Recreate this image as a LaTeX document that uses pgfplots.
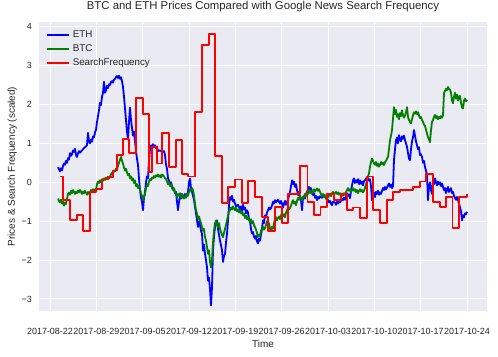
\documentclass[border=0pt]{standalone}
\usepackage{fontspec}
\setmainfont{Liberation Sans}
\usepackage{pgfplots}
\usepackage{pgfplotstable}
\pgfplotsset{compat=1.18}
\definecolor{sbbg}{HTML}{EAEAF2}
\definecolor{txt}{HTML}{262626}
\definecolor{mplblue}{rgb}{0,0,1}
\definecolor{mplgreen}{rgb}{0,0.5,0}
\definecolor{mplred}{rgb}{1,0,0}
% x unit: time steps of about 3.6 hours, 0 = 2017-08-22
\pgfplotstableread{
x y
8 0.39
9 0.33
10 0.28
11 0.36
12 0.30
13 0.42
14 0.48
15 0.45
16 0.55
17 0.50
18 0.62
19 0.58
20 0.75
21 0.68
22 0.72
23 0.82
24 0.78
25 0.86
26 0.70
27 0.65
28 0.74
29 0.80
30 0.76
32 0.82
34 0.88
36 0.92
37 0.96
38 1.27
39 1.05
40 1.00
41 1.10
42 1.04
43 1.18
44 1.15
45 1.28
46 1.35
47 1.55
48 1.70
49 1.85
50 2.05
51 1.98
52 2.20
53 2.30
54 2.58
55 2.30
56 2.36
57 2.48
58 2.42
59 2.52
60 2.50
61 2.58
62 2.60
63 2.56
64 2.64
65 2.66
66 2.70
67 2.73
68 2.68
69 2.74
70 2.66
71 2.70
72 2.60
73 2.45
74 2.20
75 1.90
76 1.60
77 1.30
78 1.10
79 1.55
80 1.92
81 1.60
82 1.40
83 1.20
84 1.30
85 1.05
86 0.80
87 0.60
88 0.45
89 0.10
90 -0.20
91 -0.40
92 -0.50
93 -0.72
94 -0.40
95 -0.25
96 0.00
97 0.15
98 0.10
99 0.55
100 0.85
101 0.95
102 0.85
103 0.98
104 0.90
105 0.95
106 0.88
107 0.92
108 0.80
110 0.82
112 0.78
114 0.80
115 0.70
116 0.45
117 0.35
118 0.10
119 0.05
120 -0.05
121 0.00
122 -0.10
123 -0.15
124 -0.20
125 -0.28
126 -0.25
127 -0.50
128 -0.72
129 -0.50
130 -0.35
131 -0.42
132 -0.30
133 -0.40
134 -0.36
135 -0.30
136 -0.38
137 -0.32
138 -0.25
139 0.00
140 0.10
141 -0.15
142 -0.25
143 -0.35
144 -0.45
145 -0.64
146 -0.80
147 -0.98
148 -1.15
149 -1.00
150 -1.10
151 -1.25
152 -1.32
153 -1.76
154 -1.60
155 -1.84
156 -2.00
157 -2.19
158 -2.53
159 -2.45
160 -2.75
161 -3.17
162 -2.70
163 -1.75
164 -1.40
165 -1.15
166 -1.05
167 -0.98
168 -1.20
169 -1.35
170 -1.50
171 -1.62
172 -1.75
173 -2.05
174 -1.90
175 -1.85
176 -1.55
177 -1.32
178 -0.98
179 -0.60
180 -0.38
181 -0.45
182 -0.35
183 -0.50
184 -0.45
185 -0.55
186 -0.62
188 -0.58
190 -0.70
191 -0.62
192 -0.75
193 -0.58
194 -0.70
195 -0.65
196 -0.80
197 -0.72
198 -0.78
199 -0.95
200 -1.00
201 -1.20
202 -1.32
203 -1.28
204 -1.40
205 -1.45
206 -1.38
207 -1.52
208 -1.57
209 -1.45
210 -1.50
211 -1.35
212 -1.20
213 -0.98
214 -1.05
215 -0.85
216 -0.90
217 -0.78
218 -0.72
219 -0.65
220 -0.70
221 -0.66
222 -0.60
223 -0.50
224 -0.55
225 -0.46
226 -0.52
227 -0.48
228 -0.45
229 -0.50
230 -0.55
231 -0.48
232 -0.55
233 -0.65
234 -0.55
235 -0.48
236 -0.58
237 -0.50
238 -0.45
239 -0.35
240 -0.25
241 -0.10
242 0.05
243 -0.05
244 0.02
245 -0.12
246 -0.05
247 -0.20
248 -0.33
249 -0.25
250 -0.40
251 -0.45
252 -0.72
253 -0.40
254 -0.35
255 -0.42
256 -0.30
257 -0.25
258 -0.18
259 -0.12
260 -0.22
261 -0.15
262 -0.25
263 -0.33
264 -0.28
265 -0.40
266 -0.35
267 -0.46
268 -0.38
269 -0.42
270 -0.36
272 -0.40
274 -0.33
276 -0.42
278 -0.46
279 -0.52
280 -0.48
281 -0.55
282 -0.59
283 -0.50
285 -0.52
286 -0.58
287 -0.50
288 -0.55
289 -0.48
290 -0.52
292 -0.42
293 -0.46
294 -0.40
295 -0.45
296 -0.36
297 -0.28
298 -0.35
299 -0.32
300 -0.41
301 -0.22
302 -0.08
303 0.05
304 0.10
305 -0.02
306 0.05
307 0.00
308 0.08
309 -0.05
310 0.05
311 -0.04
312 0.02
313 -0.08
314 0.03
315 0.05
316 0.10
317 0.06
318 0.10
319 0.04
320 0.08
321 -0.10
322 -0.46
323 -0.20
324 -0.30
325 -0.38
326 -0.25
327 -0.30
328 -0.22
329 -0.32
330 -0.26
331 -0.30
332 -0.22
333 -0.15
334 -0.20
335 -0.12
336 -0.18
337 -0.14
338 -0.08
339 -0.03
340 -0.12
341 -0.06
342 -0.15
343 -0.10
344 0.57
345 0.85
346 1.08
347 1.15
348 1.00
349 1.21
350 1.10
351 1.05
352 1.18
353 1.12
354 1.20
355 1.08
356 1.00
357 0.91
358 0.75
359 0.60
360 0.57
361 0.85
362 1.05
363 1.16
364 1.34
365 1.20
366 1.05
367 0.95
368 0.85
369 0.90
370 0.70
371 0.72
372 0.65
373 0.50
374 0.55
375 0.39
376 0.30
377 0.18
378 -0.46
379 -0.10
380 0.00
381 -0.20
382 -0.30
383 0.05
384 -0.05
385 0.10
386 0.00
387 -0.08
388 0.02
389 -0.05
390 0.00
391 -0.10
392 -0.03
393 -0.12
394 -0.20
395 -0.15
396 -0.28
397 -0.18
398 -0.12
399 -0.25
400 -0.20
401 -0.15
402 -0.28
403 -0.25
404 -0.35
405 -0.40
406 -0.45
407 -0.38
408 -0.46
409 -0.55
410 -0.64
411 -0.75
412 -0.98
413 -0.85
414 -0.90
415 -0.80
416 -0.82
417 -0.76
}\eth
\pgfplotstableread{
x y
8 -0.42
9 -0.48
10 -0.52
11 -0.45
12 -0.55
13 -0.50
14 -0.60
15 -0.52
16 -0.56
17 -0.42
18 -0.30
19 -0.27
20 -0.32
21 -0.22
22 -0.28
23 -0.20
24 -0.25
25 -0.30
26 -0.24
27 -0.28
28 -0.22
29 -0.26
30 -0.20
31 -0.25
32 -0.30
33 -0.24
34 -0.28
35 -0.22
36 -0.27
37 -0.32
38 -0.25
39 -0.30
40 -0.26
41 -0.20
42 -0.24
43 -0.18
44 -0.22
45 -0.18
46 -0.20
47 -0.05
48 0.02
49 -0.02
50 0.05
51 0.00
52 0.08
53 0.04
54 0.10
55 0.06
56 0.12
57 0.08
58 0.14
59 0.10
60 0.15
61 0.20
62 0.25
63 0.22
64 0.30
65 0.28
66 0.35
67 0.32
68 0.42
69 0.50
70 0.58
71 0.65
72 0.55
73 0.48
74 0.38
75 0.30
76 0.35
77 0.25
78 0.18
79 0.22
80 0.10
81 0.15
82 0.05
83 0.10
84 -0.02
85 0.05
86 -0.10
87 -0.05
88 -0.15
89 -0.10
90 -0.20
91 -0.28
92 -0.35
93 -0.46
94 -0.38
95 -0.30
96 -0.15
97 -0.05
98 -0.10
99 0.02
100 0.08
101 0.05
102 0.12
103 0.10
104 0.16
105 0.12
106 0.18
107 0.15
108 0.20
109 0.14
110 0.18
111 0.12
112 0.20
113 0.18
114 0.15
115 0.10
116 0.08
117 0.02
118 -0.05
119 0.00
120 -0.10
121 -0.05
122 -0.15
123 -0.20
124 -0.15
125 -0.25
126 -0.30
127 -0.38
128 -0.30
129 -0.35
130 -0.28
131 -0.40
132 -0.32
133 -0.38
134 -0.42
135 -0.35
136 -0.40
137 -0.30
138 -0.35
139 -0.25
140 -0.18
141 -0.22
142 -0.15
143 -0.20
144 -0.35
145 -0.55
146 -0.72
147 -0.80
148 -0.95
149 -0.88
150 -0.98
151 -1.05
152 -1.15
153 -1.25
154 -1.20
155 -1.41
156 -1.50
157 -1.67
158 -1.84
159 -1.75
160 -2.05
161 -2.19
162 -2.00
163 -1.55
164 -1.25
165 -1.06
166 -0.98
167 -1.08
168 -1.15
169 -1.05
170 -1.20
171 -1.28
172 -1.36
173 -1.41
174 -1.30
175 -1.20
176 -1.10
177 -0.98
178 -0.85
179 -0.75
180 -0.72
181 -0.65
182 -0.70
183 -0.62
184 -0.68
185 -0.72
186 -0.65
187 -0.75
188 -0.70
189 -0.78
190 -0.72
191 -0.80
192 -0.75
193 -0.85
194 -0.80
195 -0.92
196 -0.85
197 -0.95
198 -0.90
199 -0.98
200 -1.02
201 -0.95
202 -1.06
203 -1.00
204 -1.10
205 -1.15
206 -1.22
207 -1.30
208 -1.41
209 -1.35
210 -1.38
211 -1.25
212 -1.20
213 -1.15
214 -1.22
215 -1.18
216 -1.10
217 -1.00
218 -1.12
219 -1.05
220 -1.20
221 -1.25
222 -1.15
223 -1.20
224 -1.05
225 -0.95
226 -0.90
227 -0.98
228 -0.92
229 -0.88
230 -0.95
231 -0.85
232 -0.80
233 -0.88
234 -0.82
235 -0.90
236 -0.78
237 -0.72
238 -0.65
239 -0.70
240 -0.66
241 -0.60
242 -0.52
243 -0.46
244 -0.55
245 -0.50
246 -0.59
247 -0.48
248 -0.40
249 -0.45
250 -0.35
251 -0.40
252 -0.46
253 -0.38
254 -0.42
255 -0.30
256 -0.35
257 -0.25
258 -0.30
259 -0.20
260 -0.28
261 -0.22
262 -0.30
263 -0.22
264 -0.18
265 -0.24
266 -0.20
267 -0.16
268 -0.22
269 -0.18
270 -0.25
271 -0.30
272 -0.35
273 -0.30
274 -0.38
275 -0.33
276 -0.41
277 -0.36
278 -0.40
279 -0.34
280 -0.30
281 -0.36
282 -0.28
283 -0.25
284 -0.32
285 -0.28
286 -0.25
287 -0.30
288 -0.26
289 -0.32
290 -0.28
291 -0.33
292 -0.30
293 -0.35
294 -0.28
295 -0.32
296 -0.25
297 -0.20
298 -0.15
299 -0.22
300 -0.18
301 -0.25
302 -0.20
303 -0.15
304 -0.22
305 -0.18
306 -0.25
307 -0.20
308 -0.28
309 -0.22
310 -0.18
311 -0.24
312 -0.20
313 -0.26
314 -0.22
315 -0.15
316 -0.05
317 0.05
318 0.15
319 0.23
320 0.40
321 0.52
322 0.61
323 0.55
324 0.48
325 0.45
326 0.52
327 0.42
328 0.48
329 0.40
330 0.45
331 0.52
332 0.46
333 0.50
334 0.44
335 0.52
336 0.55
337 0.60
338 0.65
339 0.85
340 1.08
341 1.20
342 1.34
343 1.64
344 1.93
345 1.75
346 1.86
347 1.68
348 1.75
349 1.62
350 1.78
351 1.70
352 1.85
353 1.72
354 1.66
355 1.72
356 1.80
357 1.93
358 1.68
359 1.60
360 1.55
361 1.52
362 1.62
363 1.72
364 1.80
365 1.76
366 1.82
367 1.75
368 1.80
369 1.72
370 1.65
371 1.68
372 1.60
373 1.55
374 1.48
375 1.45
376 1.35
377 1.25
378 1.16
379 1.10
380 1.03
381 1.35
382 1.55
383 1.60
384 1.68
385 1.73
386 1.65
387 1.70
388 1.62
389 1.68
390 1.64
391 1.70
392 1.66
393 1.72
394 2.29
395 2.35
396 2.40
397 2.37
398 2.45
399 2.40
400 2.38
401 2.30
402 2.10
403 2.03
404 2.20
405 2.30
406 2.15
407 2.25
408 2.10
409 2.20
410 2.22
411 2.05
412 1.92
413 1.90
414 2.10
415 2.15
416 2.08
417 2.12
}\btc
\pgfplotstableread{
x y
10 0.15
12.7 -0.46
20 -0.98
26.7 -0.85
32.7 -1.25
40 -0.25
46 -0.18
52 0.07
58 0.14
63 0.30
66.7 0.70
72.7 1.11
79 0.75
86 2.16
93 1.75
99 0.27
101.7 0.91
106.7 0.48
112.3 1.27
119 0.39
125.7 1.08
131.7 0.21
138.3 0.15
145 1.81
151.7 3.53
159 3.81
165 0.67
171.7 -0.53
178.3 -0.12
185 0.07
191.7 -0.53
198.3 0.03
205 -0.38
211.7 -0.90
218 -1.25
225 -0.64
231.7 -1.05
237.7 -0.31
250 0.42
257.5 -0.51
264 -0.85
270.5 -0.63
277.3 -0.31
284 -0.45
290.7 -0.31
297 -0.71
303.3 -0.65
310 -0.91
316.7 0.15
323.3 -0.71
330 -1.05
336.7 -0.46
343.3 -0.25
350 -0.19
363.3 -0.12
370 0.02
376 0.21
383.3 -0.51
390 -0.64
396 -0.37
402.5 -1.18
409 -0.37
416.7 -0.30
}\search
\begin{document}
\begin{tikzpicture}
\useasboundingbox (-39bp,-46bp) rectangle (459bp,311bp);
\begin{axis}[
  at={(0,0)}, anchor=south west,
  scale only axis, width=448bp, height=289bp,
  xmin=-11, xmax=437, ymin=-3.31, ymax=4.12,
  axis background/.style={fill=sbbg},
  axis line style={draw=none},
  major tick length=0pt,
  grid=major, grid style={white, line width=0.9bp},
  xtick={0,46.33,92.67,139,185.33,231.67,278,324.33,370.67,417},
  xticklabels={2017-08-22,2017-08-29,2017-09-05,2017-09-12,2017-09-19,2017-09-26,2017-10-03,2017-10-10,2017-10-17,2017-10-24},
  ytick={-3,-2,-1,0,1,2,3,4},
  yticklabels={−3,−2,−1,0,1,2,3,4},
  tick label style={font=\fontsize{9}{10}\selectfont, text=txt},
  xticklabel style={anchor=base, inner sep=0pt, yshift=-23.3bp},
  yticklabel style={anchor=east, inner sep=0pt, xshift=-7bp},
  xlabel={Time},
  ylabel={Prices \& Search Frequency (scaled)},
  label style={font=\fontsize{10}{12}\selectfont, text=txt},
  xlabel style={at={(axis description cs:0.5,-0.1256)}, anchor=base, inner sep=0pt},
  ylabel style={at={(axis description cs:-0.0536,0.5)}, anchor=base, inner sep=0pt},
  title={BTC and ETH Prices Compared with Google News Search Frequency},
  title style={font=\fontsize{11.4}{13}\selectfont, text=txt, at={(axis description cs:0.5,1.0242)}, anchor=base, inner sep=0pt},
  legend style={at={(axis description cs:0,1)}, anchor=north west, xshift=7.5bp, yshift=-6bp,
    draw=none, fill=none, inner sep=0pt, outer sep=0pt,
    font=\fontsize{9.8}{11}\selectfont, text=txt,
    nodes={inner sep=2.5bp, text height=7bp, text depth=2bp},
    /tikz/every even column/.append style={column sep=4bp}},
  legend cell align=left,
  legend image code/.code={\draw[#1] (0bp,0bp) -- (22bp,0bp);},
  every axis plot/.append style={line width=1.8bp, line join=round},
]
\addplot[mplblue] table[x=x,y=y] {\eth};
\addlegendentry{ETH}
\addplot[mplgreen] table[x=x,y=y] {\btc};
\addlegendentry{BTC}
\addplot[mplred, const plot] table[x=x,y=y] {\search};
\addlegendentry{SearchFrequency}
\end{axis}
\end{tikzpicture}
\end{document}
